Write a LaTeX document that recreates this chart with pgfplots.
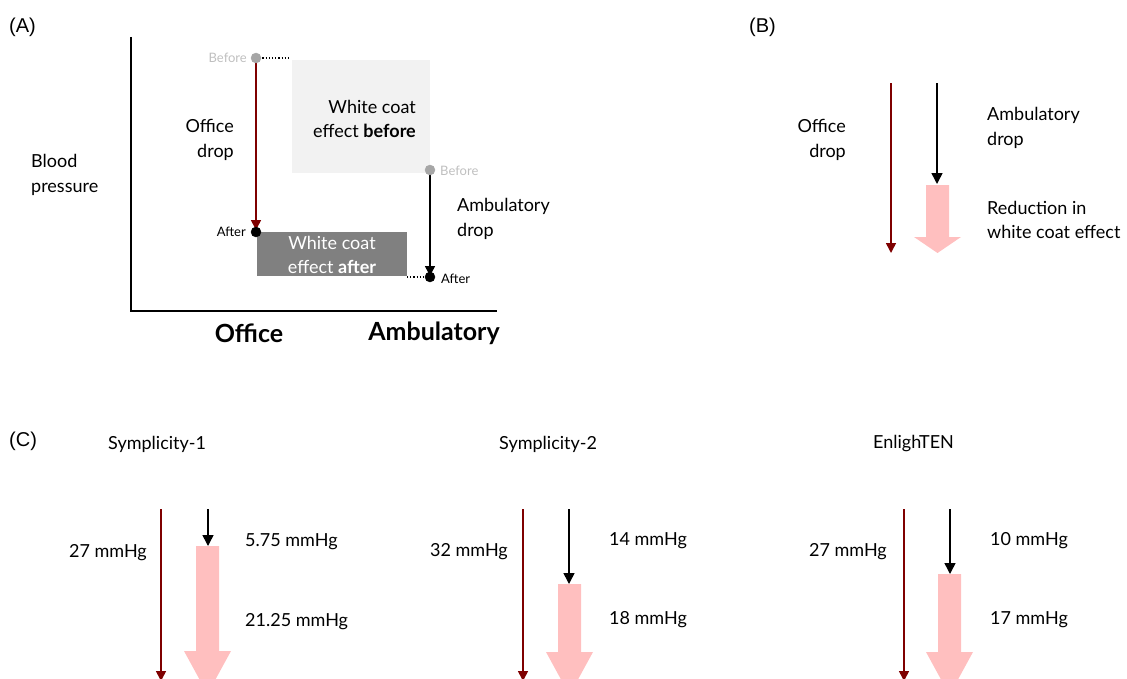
\documentclass[border=0pt]{standalone}
\usepackage{pgfplots}
\pgfplotsset{compat=1.18}
\usepackage{fontspec}
\setmainfont{Lato}
\newfontfamily\arial{Liberation Sans}
\usetikzlibrary{arrows.meta}
\definecolor{dred}{HTML}{7F0000}
\definecolor{pinkf}{HTML}{FFBFBF}
\definecolor{lgrey}{HTML}{F2F2F2}
\definecolor{mgrey}{HTML}{808080}
\definecolor{dotgrey}{HTML}{A6A6A6}
\definecolor{txtgrey}{HTML}{BFBFBF}
\newcommand\mfs{\fontsize{18bp}{24.5bp}\selectfont}
\newcommand\sfs{\fontsize{13bp}{15bp}\selectfont}
\newcommand\bfs{\fontsize{25bp}{28bp}\selectfont\bfseries}
\newcommand\pfs{\arial\fontsize{20bp}{22bp}\selectfont}
\begin{document}
\begin{tikzpicture}
\begin{axis}[name=ax, width=1127bp, height=678bp, scale only axis, hide axis,
  xmin=0, xmax=1127, ymin=0, ymax=678, y dir=reverse, clip=false]
% ---------- Panel A ----------
\addplot[fill=lgrey, draw=none] coordinates {(292,60) (430,60) (430,173) (292,173)} -- cycle;
\addplot[fill=mgrey, draw=none] coordinates {(257,232) (407,232) (407,276) (257,276)} -- cycle;
\addplot[black, line width=1.8bp] coordinates {(131,37) (131,311) (497,311)};
\addplot[black, dotted, line width=1.2bp] coordinates {(256,58) (291,58)};
\addplot[black, dotted, line width=1.2bp] coordinates {(407,277) (430,277)};
\addplot[dred, line width=1.6bp, -{Triangle[width=10bp,length=10bp]}] coordinates {(256,58) (256,230)};
\addplot[black, line width=1.5bp, -{Triangle[width=10bp,length=10bp]}] coordinates {(430,170) (430,276)};
\addplot[only marks, mark=*, mark size=5bp, dotgrey] coordinates {(256,58) (430,170)};
\addplot[only marks, mark=*, mark size=5bp, black] coordinates {(256,232) (430,277)};
\node[anchor=east, text=txtgrey, inner sep=0, font=\sfs] at (axis cs:247,58) {Before};
\node[anchor=west, text=txtgrey, inner sep=0, font=\sfs] at (axis cs:440,171) {Before};
\node[anchor=east, inner sep=0, font=\sfs] at (axis cs:246,232) {After};
\node[anchor=west, inner sep=0, font=\sfs] at (axis cs:441,279) {After};
\node[anchor=east, align=right, inner sep=0, font=\mfs] at (axis cs:416,119) {White coat\\ effect \textbf{before}};
\node[align=center, text=white, inner sep=0, font=\mfs] at (axis cs:332,255) {White coat\\ effect \textbf{after}};
\node[anchor=east, align=right, inner sep=0, font=\mfs] at (axis cs:234,140) {Office\\ drop};
\node[anchor=west, align=left, inner sep=0, font=\mfs] at (axis cs:457,219) {Ambulatory\\ drop};
\node[anchor=west, align=left, inner sep=0, font=\mfs] at (axis cs:31,175) {Blood\\ pressure};
\node[inner sep=0, font=\bfs] at (axis cs:249,333) {Office};
\node[inner sep=0, font=\bfs] at (axis cs:434,333) {Ambulatory};
\node[anchor=west, inner sep=0, font=\pfs] at (axis cs:9,27) {(A)};
% ---------- Panel B ----------
\node[anchor=west, inner sep=0, font=\pfs] at (axis cs:749,27) {(B)};
\addplot[dred, line width=1.6bp, -{Triangle[width=10bp,length=10bp]}] coordinates {(891,83) (891,253)};
\addplot[black, line width=1.5bp, -{Triangle[width=11bp,length=11bp]}] coordinates {(937,83) (937,184)};
\addplot[fill=pinkf, draw=none] coordinates {(926,185) (949,185) (949,237) (961,237) (937.5,253) (914,237) (926,237)} -- cycle;
\node[anchor=east, align=right, inner sep=0, font=\mfs] at (axis cs:846,140) {Office\\ drop};
\node[anchor=west, align=left, inner sep=0, font=\mfs] at (axis cs:987,128) {Ambulatory\\ drop};
\node[anchor=west, align=left, inner sep=0, font=\mfs] at (axis cs:987,220) {Reduction in\\ white coat effect};
% ---------- Panel C ----------
\node[anchor=west, inner sep=0, font=\pfs] at (axis cs:9,441) {(C)};
\node[anchor=west, inner sep=0, font=\mfs] at (axis cs:108,444) {Symplicity-1};
\node[anchor=west, inner sep=0, font=\mfs] at (axis cs:499,444) {Symplicity-2};
\node[anchor=west, inner sep=0, font=\mfs] at (axis cs:873,444) {EnlighTEN};
% Symplicity-1
\addplot[dred, line width=1.6bp, -{Triangle[width=10bp,length=10bp]}] coordinates {(161,509) (161,681)};
\addplot[black, line width=1.5bp, -{Triangle[width=11bp,length=11bp]}] coordinates {(208,509) (208,546)};
\addplot[fill=pinkf, draw=none] coordinates {(196,546) (219,546) (219,651) (231,651) (207.5,694) (184,651) (196,651)} -- cycle;
\node[anchor=east, inner sep=0, font=\mfs] at (axis cs:147,553) {27 mmHg};
\node[anchor=west, inner sep=0, font=\mfs] at (axis cs:245,542) {5.75 mmHg};
\node[anchor=west, inner sep=0, font=\mfs] at (axis cs:245,622) {21.25 mmHg};
% Symplicity-2
\addplot[dred, line width=1.6bp, -{Triangle[width=10bp,length=10bp]}] coordinates {(523,509) (523,681)};
\addplot[black, line width=1.5bp, -{Triangle[width=11bp,length=11bp]}] coordinates {(569,509) (569,584)};
\addplot[fill=pinkf, draw=none] coordinates {(558,584) (581,584) (581,652) (593,652) (569.5,695) (546,652) (558,652)} -- cycle;
\node[anchor=east, inner sep=0, font=\mfs] at (axis cs:508,552) {32 mmHg};
\node[anchor=west, inner sep=0, font=\mfs] at (axis cs:609,541) {14 mmHg};
\node[anchor=west, inner sep=0, font=\mfs] at (axis cs:609,620) {18 mmHg};
% EnlighTEN
\addplot[dred, line width=1.6bp, -{Triangle[width=10bp,length=10bp]}] coordinates {(904,509) (904,681)};
\addplot[black, line width=1.5bp, -{Triangle[width=11bp,length=11bp]}] coordinates {(950,509) (950,574)};
\addplot[fill=pinkf, draw=none] coordinates {(938,574) (961,574) (961,652) (973,652) (949.5,695) (926,652) (938,652)} -- cycle;
\node[anchor=east, inner sep=0, font=\mfs] at (axis cs:887,552) {27 mmHg};
\node[anchor=west, inner sep=0, font=\mfs] at (axis cs:990,541) {10 mmHg};
\node[anchor=west, inner sep=0, font=\mfs] at (axis cs:990,620) {17 mmHg};
\end{axis}
\pgfresetboundingbox
\path (ax.south west) rectangle (ax.north east);
\end{tikzpicture}
\end{document}
